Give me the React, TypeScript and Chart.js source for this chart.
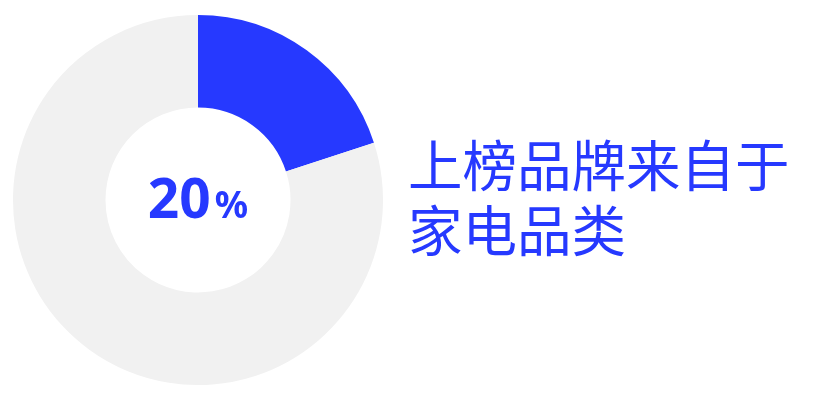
import { useRef, useEffect } from 'react';
import { Chart } from 'chart.js/auto';

// share of listed brands that come from home appliances
const labels = ['家电品类', '其他'];
const values = [20, 80];
const colors = ['#2639FF', '#F1F1F1'];
const centerMain = '20';
const centerUnit = '%';
const captionLines = ['上榜品牌来自于', '家电品类'];

const BLUE = '#2639FF';

const centerTextPlugin = {
    id: 'centerText',
    afterDraw(chart: any) {
        const meta = chart.getDatasetMeta(0);
        if (!meta.data.length) return;
        const { x, y } = meta.data[0];
        const ctx = chart.ctx;
        ctx.save();
        ctx.fillStyle = BLUE;
        ctx.textBaseline = 'alphabetic';
        const mainFont = 'bold 55px "Noto Sans", sans-serif';
        const unitFont = 'bold 37px "Noto Sans", sans-serif';
        ctx.font = mainFont;
        const wMain = ctx.measureText(centerMain).width;
        ctx.font = unitFont;
        const wUnit = ctx.measureText(centerUnit).width;
        const gap = 4;
        const left = x - (wMain + gap + wUnit) / 2;
        const baseline = y + 18;
        ctx.textAlign = 'left';
        ctx.font = mainFont;
        ctx.fillText(centerMain, left, baseline);
        ctx.font = unitFont;
        ctx.fillText(centerUnit, left + wMain + gap, baseline);
        ctx.restore();
    }
};

const App = () => {
    const canvasRef = useRef(null);
    const chartRef = useRef(null);

    useEffect(() => {
        if (!canvasRef.current) return;
        if (chartRef.current) chartRef.current.destroy();

        chartRef.current = new Chart(canvasRef.current, {
            type: 'doughnut',
            data: {
                labels,
                datasets: [{
                    data: values,
                    backgroundColor: colors,
                    borderWidth: 0,
                    hoverOffset: 0
                }]
            },
            options: {
                responsive: true,
                maintainAspectRatio: false,
                animation: false,
                cutout: '50%',
                layout: { padding: 0 },
                plugins: {
                    legend: { display: false },
                    tooltip: { enabled: false }
                }
            },
            plugins: [centerTextPlugin]
        } as any);

        return () => { if (chartRef.current) chartRef.current.destroy(); };
    }, []);

    return (
        <div style={{ position: 'absolute', left: 0, top: 0, width: 840, height: 400, background: '#fff', overflow: 'hidden' }}>
            <div style={{ position: 'absolute', left: 13, top: 15, width: 370, height: 370 }}>
                <canvas ref={canvasRef}></canvas>
            </div>
            <div style={{
                position: 'absolute', left: 408, top: 130,
                fontFamily: '"Noto Sans CJK SC", sans-serif', fontSize: 54.5, lineHeight: '65px',
                color: BLUE, fontWeight: 400, whiteSpace: 'nowrap'
            }}>
                {captionLines.map((line, i) => <div key={i}>{line}</div>)}
            </div>
        </div>
    );
};

export default App;
